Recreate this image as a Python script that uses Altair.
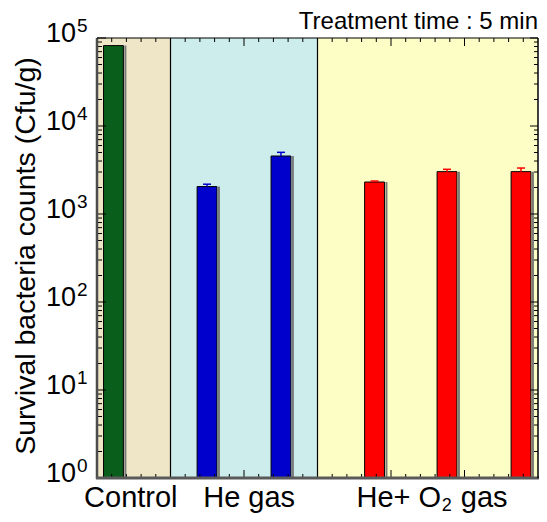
import altair as alt
import pandas as pd

# ---- data ----
categories = ["Control", "He gas", "He gas", "He+O2 gas", "He+O2 gas", "He+O2 gas"]
counts = [82000, 2050, 4560, 2310, 3030, 3030]
upper_err = [82000, 2180, 5020, 2370, 3220, 3330]
bar_colors = ["#0A5E1C", "#0000CC", "#0000CC", "#FF0000", "#FF0000", "#FF0000"]

group_names = ["Control", "He gas", "He+ O2 gas"]
group_start = [0, 1, 3]
group_end = [1, 3, 6]
group_colors = ["#EEE6C6", "#CCEDEB", "#FDFDC6"]

y_exponents = ["0", "1", "2", "3", "4", "5"]
title_text = "Treatment time : 5 min"
y_title = "Survival bacteria counts (Cfu/g)"

# ---- layout ----
bar_pos = [0.224, 1.497, 2.503, 3.776, 4.762, 5.769]
half_w = 0.135
W, H = 441, 440
FONT = "Liberation Sans"
LAB_Y = 469

xs = alt.Scale(domain=[0, 6], nice=False, zero=False)
ys = alt.Scale(type="log", domain=[1, 100000], nice=False)

bars_df = pd.DataFrame({"cat": categories, "pos": bar_pos, "count": counts,
                        "err": upper_err, "color": bar_colors})
bands_df = pd.DataFrame({"name": group_names, "start": group_start,
                         "end": group_end, "color": group_colors})

bands = alt.Chart(bands_df).mark_rect().encode(
    x=alt.X("start:Q", scale=xs, axis=None), x2="end:Q",
    y=alt.value(0), y2=alt.value(H),
    color=alt.Color("color:N", scale=None))

borders = alt.Chart(pd.DataFrame({"b": [1, 3]})).mark_rule(
    color="black", strokeWidth=1.2).encode(
    x=alt.X("b:Q", scale=xs, axis=None), y=alt.value(0), y2=alt.value(H))

bars_base = alt.Chart(bars_df).transform_calculate(
    l=f"datum.pos-{half_w}", r=f"datum.pos+{half_w}")

bars = bars_base.mark_rect(stroke="black", strokeWidth=1).encode(
    x=alt.X("l:Q", scale=xs, axis=None), x2="r:Q",
    y=alt.Y("count:Q", scale=ys, axis=None), y2=alt.value(H),
    color=alt.Color("color:N", scale=None))

shadow = bars_base.mark_rect(fill="#7a7a7a", xOffset=1, x2Offset=3).encode(
    x=alt.X("r:Q", scale=xs, axis=None), x2="r:Q",
    y=alt.Y("count:Q", scale=ys, axis=None), y2=alt.value(H))

err_base = alt.Chart(bars_df).transform_filter("datum.err > datum.count")
err_line = err_base.mark_rule(strokeWidth=1.5).encode(
    x=alt.X("pos:Q", scale=xs, axis=None),
    y=alt.Y("count:Q", scale=ys, axis=None), y2="err:Q",
    color=alt.Color("color:N", scale=None))
err_cap = err_base.mark_rule(strokeWidth=1.5, xOffset=-4, x2Offset=4).encode(
    x=alt.X("pos:Q", scale=xs, axis=None), x2="pos:Q",
    y=alt.Y("err:Q", scale=ys, axis=None),
    color=alt.Color("color:N", scale=None))

# ---- ticks (inward) ----
minor_vals = [m * 10 ** k for k in range(5) for m in range(2, 10)]
major_vals = [10 ** k for k in range(6)]
minor_df = pd.DataFrame({"v": minor_vals})
major_df = pd.DataFrame({"v": major_vals})

def ytick(df, x0, x1):
    return alt.Chart(df).mark_rule(color="black", strokeWidth=1).encode(
        y=alt.Y("v:Q", scale=ys, axis=None), x=alt.value(x0), x2=alt.value(x1))

xt_vals = [round(0.2 * i, 1) for i in range(1, 30)]
xt_short = pd.DataFrame({"v": [v for v in xt_vals if v not in (2.0, 4.0, 5.0)]})
xt_long = pd.DataFrame({"v": [2.0, 4.0, 5.0]})

def xtick(df, y0, y1):
    return alt.Chart(df).mark_rule(color="black", strokeWidth=1).encode(
        x=alt.X("v:Q", scale=xs, axis=None), y=alt.value(y0), y2=alt.value(y1))

ticks = [
    ytick(minor_df, 0, 5), ytick(major_df, 0, 9),
    ytick(minor_df, W - 4, W), ytick(major_df, W - 8, W),
    xtick(xt_short, H - 4, H), xtick(xt_long, H - 8, H),
    xtick(xt_short, 0, 4), xtick(xt_long, 0, 8),
]

frame_left = alt.Chart(pd.DataFrame({"a": [0]})).mark_rule(
    color="#4d4d4d", strokeWidth=2.5).encode(
    x=alt.value(0), y=alt.value(0), y2=alt.value(H + 1))
frame_bottom = alt.Chart(pd.DataFrame({"a": [0]})).mark_rule(
    color="#5a5a5a", strokeWidth=3).encode(
    y=alt.value(H), x=alt.value(-1), x2=alt.value(W + 1))
frame_top = alt.Chart(pd.DataFrame({"a": [0]})).mark_rule(
    color="black", strokeWidth=1.2).encode(
    y=alt.value(0), x=alt.value(0), x2=alt.value(W))
frame_right = alt.Chart(pd.DataFrame({"a": [0]})).mark_rule(
    color="black", strokeWidth=1.5).encode(
    x=alt.value(W), y=alt.value(0), y2=alt.value(H))

# ---- y tick labels: 10 with superscript exponent ----
ylab_df = pd.DataFrame({"v": major_vals, "e": y_exponents})
ylab_base = alt.Chart(ylab_df).mark_text(
    align="right", baseline="alphabetic", fontSize=27, dy=4, font=FONT,
    color="black").encode(
    y=alt.Y("v:Q", scale=ys, axis=None), x=alt.value(-21), text=alt.value("10"))
ylab_exp = alt.Chart(ylab_df).mark_text(
    align="left", baseline="alphabetic", fontSize=19, dy=-6, font=FONT,
    color="black").encode(
    y=alt.Y("v:Q", scale=ys, axis=None), x=alt.value(-20), text="e:N")

ytitle = alt.Chart(pd.DataFrame({"t": [y_title]})).mark_text(
    angle=270, align="center", baseline="middle", fontSize=28.5, font=FONT,
    color="black").encode(x=alt.value(-71), y=alt.value(218), text="t:N")

title = alt.Chart(pd.DataFrame({"t": [title_text]})).mark_text(
    align="right", baseline="alphabetic", fontSize=24, font=FONT,
    color="black").encode(x=alt.value(441), y=alt.value(-9), text="t:N")

# ---- x category labels ----
xlab_df = pd.DataFrame({"t": ["Control", "He gas"], "x": [0.46, 2.07]})
xlab = alt.Chart(xlab_df).mark_text(
    align="center", baseline="alphabetic", fontSize=29, font=FONT,
    color="black").encode(
    x=alt.X("x:Q", scale=xs, axis=None), y=alt.value(LAB_Y), text="t:N")
he_o = alt.Chart(pd.DataFrame({"t": ["He+ O"], "x": [3.53]})).mark_text(
    align="left", baseline="alphabetic", fontSize=29, font=FONT,
    color="black").encode(
    x=alt.X("x:Q", scale=xs, axis=None), y=alt.value(LAB_Y), text="t:N")
he_sub = alt.Chart(pd.DataFrame({"t": ["2"], "x": [4.69]})).mark_text(
    align="left", baseline="alphabetic", fontSize=18, dy=4, font=FONT,
    color="black").encode(
    x=alt.X("x:Q", scale=xs, axis=None), y=alt.value(LAB_Y), text="t:N")
he_gas = alt.Chart(pd.DataFrame({"t": ["gas"], "x": [4.95]})).mark_text(
    align="left", baseline="alphabetic", fontSize=29, font=FONT,
    color="black").encode(
    x=alt.X("x:Q", scale=xs, axis=None), y=alt.value(LAB_Y), text="t:N")

chart = alt.layer(
    bands, borders, shadow, bars, err_line, err_cap, *ticks,
    frame_left, frame_bottom, frame_top, frame_right,
    ylab_base, ylab_exp, ytitle, title, xlab, he_o, he_sub, he_gas,
).properties(
    width=W, height=H,
    padding={"left": 89, "top": 30, "right": 1, "bottom": 36},
    autosize=alt.AutoSizeParams(type="none"),
).configure_view(stroke=None)

chart.save("out.html", embed_options={"renderer": "svg", "actions": False})
